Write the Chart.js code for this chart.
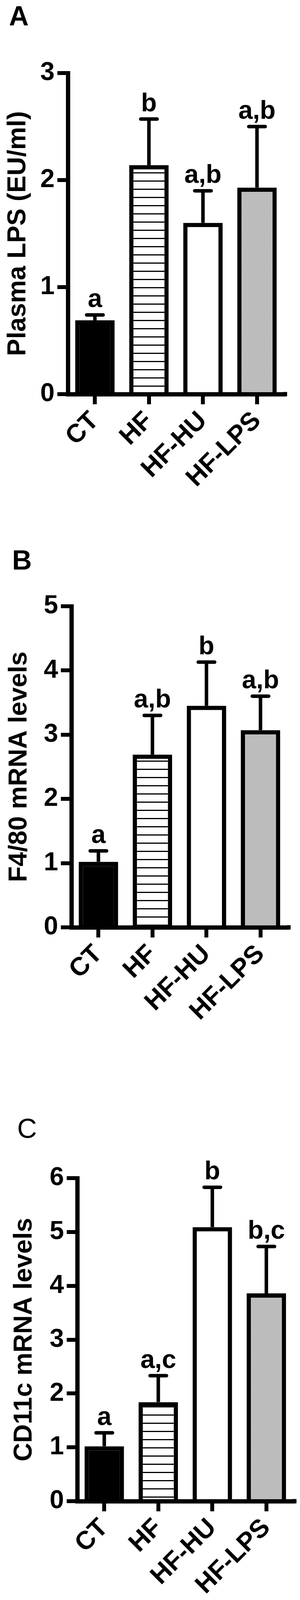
<!DOCTYPE html>
<html>
<head>
<meta charset="utf-8">
<script src="https://cdn.jsdelivr.net/npm/chart.js@4"></script>
<style>
  html, body { margin: 0; padding: 0; background: #fff; }
  #wrap { position: relative; width: 769px; height: 4119px; }
  canvas { position: absolute; left: 0; }
</style>
</head>
<body>
<div id="wrap">
  <canvas id="chartA" width="769" height="1380" style="top:0px;width:769px;height:1380px"></canvas>
  <canvas id="chartB" width="769" height="1380" style="top:1380px;width:769px;height:1380px"></canvas>
  <canvas id="chartC" width="769" height="1359" style="top:2760px;width:769px;height:1359px"></canvas>
</div>
<script>
// Groups
const groups = ['CT', 'HF', 'HF-HU', 'HF-LPS'];

// Panel A - plasma LPS (EU/ml), mean and upper SEM
const lpsMean = [0.69, 2.14, 1.60, 1.93];
const lpsErr = [0.05, 0.43, 0.30, 0.57];
const lpsLetters = ['a', 'b', 'a,b', 'a,b'];
const lpsTicks = [0, 1, 2, 3];

// Panel B - F4/80 mRNA levels
const f480Mean = [1.02, 2.69, 3.45, 3.07];
const f480Err = [0.17, 0.61, 0.68, 0.53];
const f480Letters = ['a', 'a,b', 'b', 'a,b'];
const f480Ticks = [0, 1, 2, 3, 4, 5];

// Panel C - CD11c mRNA levels
const cd11cMean = [1.02, 1.84, 5.09, 3.86];
const cd11cErr = [0.25, 0.49, 0.74, 0.87];
const cd11cLetters = ['a', 'a,c', 'b', 'b,c'];
const cd11cTicks = [0, 1, 2, 3, 4, 5, 6];

const FONT = '"Liberation Sans", Arial, Helvetica, sans-serif';

// Fill patterns
function stripePattern() {
    const c = document.createElement('canvas');
    c.width = 8; c.height = 21;
    const g = c.getContext('2d');
    g.fillStyle = '#fff';
    g.fillRect(0, 0, 8, 21);
    g.fillStyle = '#000';
    g.fillRect(0, 0, 8, 3);
    return g.createPattern(c, 'repeat');
}

function grayPattern() {
    const c = document.createElement('canvas');
    c.width = 2; c.height = 2;
    const g = c.getContext('2d');
    g.fillStyle = '#a9a9a9';
    g.fillRect(0, 0, 2, 2);
    g.fillStyle = '#d0d0d0';
    g.fillRect(0, 0, 1, 1);
    g.fillRect(1, 1, 1, 1);
    return g.createPattern(c, 'repeat');
}

// Error bars, significance letters, panel letter and axis tail
const extrasPlugin = {
    id: 'extras',
    afterDatasetsDraw(chart, args, opts) {
        const ctx = chart.ctx;
        const y = chart.scales.y;
        const meta = chart.getDatasetMeta(0);
        ctx.save();
        ctx.strokeStyle = '#000';
        ctx.fillStyle = '#000';
        opts.mean.forEach((m, i) => {
            const x = meta.data[i].x;
            const yBase = y.getPixelForValue(m);
            const yTop = y.getPixelForValue(m + opts.err[i]);
            ctx.lineWidth = 9;
            ctx.lineCap = 'butt';
            ctx.beginPath();
            ctx.moveTo(x, yBase);
            ctx.lineTo(x, yTop);
            ctx.stroke();
            ctx.lineCap = 'round';
            ctx.beginPath();
            ctx.moveTo(x - 21, yTop);
            ctx.lineTo(x + 21, yTop);
            ctx.stroke();
            ctx.font = 'bold 66px ' + FONT;
            ctx.textAlign = 'center';
            ctx.textBaseline = 'alphabetic';
            ctx.fillText(opts.letters[i], x, yTop - 20);
        });
        // x axis runs a little past the last group
        const area = chart.chartArea;
        ctx.lineWidth = 11;
        ctx.lineCap = 'butt';
        ctx.beginPath();
        ctx.moveTo(area.right - 2, area.bottom);
        ctx.lineTo(area.right + 8, area.bottom);
        ctx.stroke();
        // panel letter
        ctx.font = opts.panelWeight + ' 70px ' + FONT;
        ctx.textAlign = 'left';
        ctx.fillText(opts.panel, opts.panelX, opts.panelY);
        ctx.restore();
    }
};

function makePanel(id, p) {
    const canvas = document.getElementById(id);
    const H = canvas.height;
    const ctx = canvas.getContext('2d');
    const fills = ['#000', stripePattern(), '#fff', grayPattern()];
    new Chart(ctx, {
        type: 'bar',
        data: {
            labels: groups,
            datasets: [{
                data: p.mean,
                backgroundColor: fills,
                borderColor: '#000',
                borderWidth: 11,
                borderSkipped: 'start',
                barPercentage: 0.73,
                categoryPercentage: 1
            }]
        },
        options: {
            responsive: false,
            animation: false,
            devicePixelRatio: 1,
            layout: { padding: { left: 0, top: p.top, right: 769 - p.right, bottom: 0 } },
            plugins: {
                legend: { display: false },
                tooltip: { enabled: false },
                extras: {
                    mean: p.mean, err: p.err, letters: p.letters,
                    panel: p.panel, panelX: p.panelX, panelY: p.panelY, panelWeight: p.panelWeight
                }
            },
            scales: {
                x: {
                    grid: { offset: false, drawOnChartArea: false, drawTicks: true, tickLength: 26, lineWidth: 10, color: '#000' },
                    border: { display: true, width: 11, color: '#000', z: 1 },
                    ticks: {
                        minRotation: 45, maxRotation: 45, padding: 4, color: '#000',
                        font: { family: FONT, size: 66, weight: 'bold' }
                    },
                    afterFit: s => { s.height = H - p.bottom; }
                },
                y: {
                    min: 0,
                    max: p.ticks[p.ticks.length - 1],
                    afterBuildTicks: s => { s.ticks = p.ticks.map(v => ({ value: v })); },
                    grid: { drawOnChartArea: false, drawTicks: true, tickLength: 27, lineWidth: 10, color: '#000' },
                    border: { display: true, width: 11, color: '#000', z: 1 },
                    ticks: {
                        padding: 7, color: '#000',
                        font: { family: FONT, size: 66, weight: 'bold' }
                    },
                    title: {
                        display: true, text: p.title, color: '#000',
                        padding: { top: p.titlePad, bottom: 0 },
                        font: { family: FONT, size: 66, weight: 'bold', lineHeight: 1 }
                    },
                    afterFit: s => { s.width = p.left; }
                }
            }
        },
        plugins: [extrasPlugin]
    });
}

makePanel('chartA', {
    mean: lpsMean, err: lpsErr, letters: lpsLetters, ticks: lpsTicks,
    title: 'Plasma LPS (EU/ml)', titlePad: 14,
    left: 174, right: 728, top: 187, bottom: 1009,
    panel: 'A', panelX: 23, panelY: 65, panelWeight: 'bold'
});

makePanel('chartB', {
    mean: f480Mean, err: f480Err, letters: f480Letters, ticks: f480Ticks,
    title: 'F4/80 mRNA levels', titlePad: 17,
    left: 183, right: 737, top: 172, bottom: 994,
    panel: 'B', panelX: 31, panelY: 78, panelWeight: 'bold'
});

makePanel('chartC', {
    mean: cd11cMean, err: cd11cErr, letters: cd11cLetters, ticks: cd11cTicks,
    title: 'CD11c mRNA levels', titlePad: 30,
    left: 198, right: 752, top: 256, bottom: 1083,
    panel: 'C', panelX: 44, panelY: 153, panelWeight: 'normal'
});
</script>
</body>
</html>
